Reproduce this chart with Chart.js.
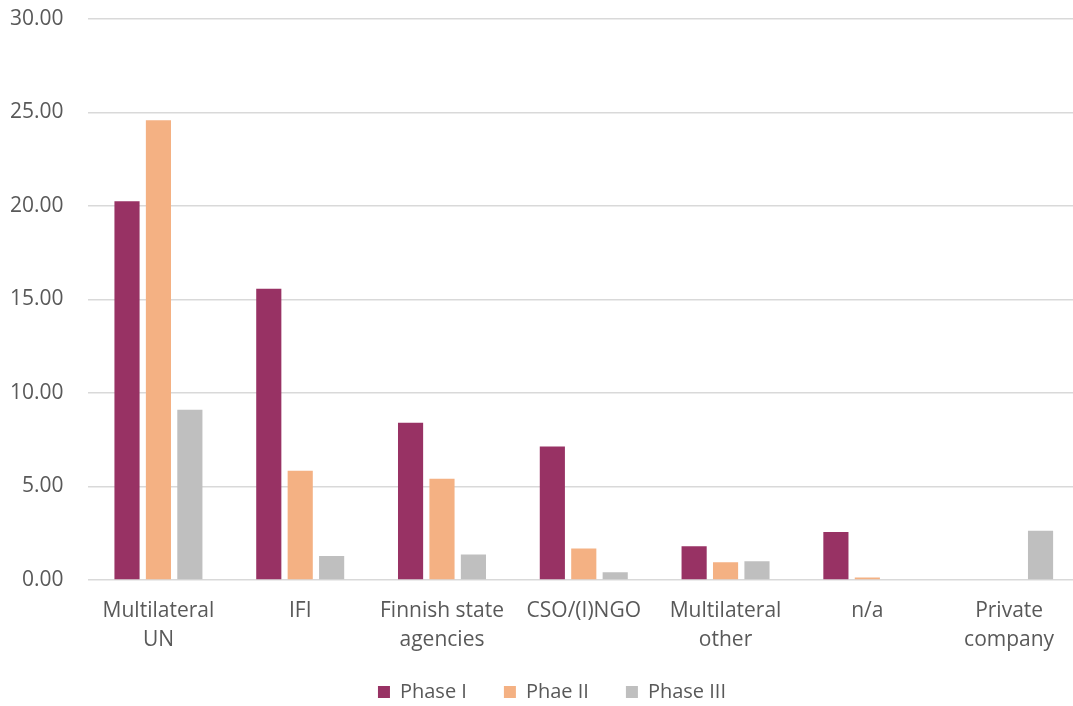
<!DOCTYPE html>
<html>
<head>
<meta charset="utf-8">
<script src="https://cdn.jsdelivr.net/npm/chart.js@4/dist/chart.umd.min.js"></script>
<style>
  html, body { margin: 0; padding: 0; background: #ffffff; overflow: hidden; }
  #wrap { position: relative; width: 1090px; height: 706px; }
</style>
</head>
<body>
<div id="wrap"><canvas id="c"></canvas></div>
<script>
const categories = [
  ["Multilateral", "UN"],
  "IFI",
  ["Finnish state", "agencies"],
  "CSO/(I)NGO",
  ["Multilateral", "other"],
  "n/a",
  ["Private", "company"]
];
const phase1 = [20.25, 15.57, 8.41, 7.14, 1.80, 2.57, 0];
const phase2 = [24.59, 5.84, 5.41, 1.68, 0.95, 0.14, 0];
const phase3 = [9.11, 1.29, 1.37, 0.41, 1.00, 0, 2.64];
const seriesNames = ["Phase I", "Phae II", "Phase III"];
const yTicks = { min: 0, max: 30, step: 5 };

const FONT = "'Open Sans', 'Noto Sans', sans-serif";
const TEXT = "#595959";
const GRID = "#d9d9d9";

// shift the legend box after layout (position tweak only)
const legendShift = {
  id: 'legendShift',
  afterLayout(chart) {
    const lg = chart.legend;
    if (!lg) return;
    const dx = 7, dy = -26;
    lg.left += dx; lg.right += dx;
    lg.top += dy;
    lg.bottom = chart.height;
  }
};

new Chart(document.getElementById('c'), {
  type: 'bar',
  data: {
    labels: categories,
    datasets: [
      { label: seriesNames[0], data: phase1, backgroundColor: '#983264' },
      { label: seriesNames[1], data: phase2, backgroundColor: '#f4b183' },
      { label: seriesNames[2], data: phase3, backgroundColor: '#bfbfbf' }
    ]
  },
  options: {
    responsive: true,
    maintainAspectRatio: false,
    animation: false,
    datasets: { bar: { categoryPercentage: 0.665, barPercentage: 0.8 } },
    layout: { padding: { left: 10, right: 10, top: 19, bottom: 0 } },
    scales: {
      x: {
        grid: { display: false, drawTicks: false },
        border: { display: false },
        ticks: {
          color: TEXT, padding: 16.5, maxRotation: 0, autoSkip: false,
          font: { family: FONT, size: 21, lineHeight: 1.381 }
        }
      },
      y: {
        min: yTicks.min, max: yTicks.max,
        grid: { color: GRID, lineWidth: 1.5, drawTicks: true, tickLength: 24, tickColor: 'rgba(0,0,0,0)' },
        border: { display: false },
        ticks: {
          stepSize: yTicks.step, color: TEXT, padding: 0,
          font: { family: FONT, size: 21 },
          callback: v => Number(v).toFixed(2)
        }
      }
    },
    plugins: {
      tooltip: { enabled: false },
      legend: {
        position: 'bottom',
        maxHeight: 35,
        labels: {
          color: TEXT, boxWidth: 12, boxHeight: 12, padding: 37,
          font: { family: FONT, size: 20 }
        }
      }
    }
  },
  plugins: [legendShift]
});
</script>
</body>
</html>
